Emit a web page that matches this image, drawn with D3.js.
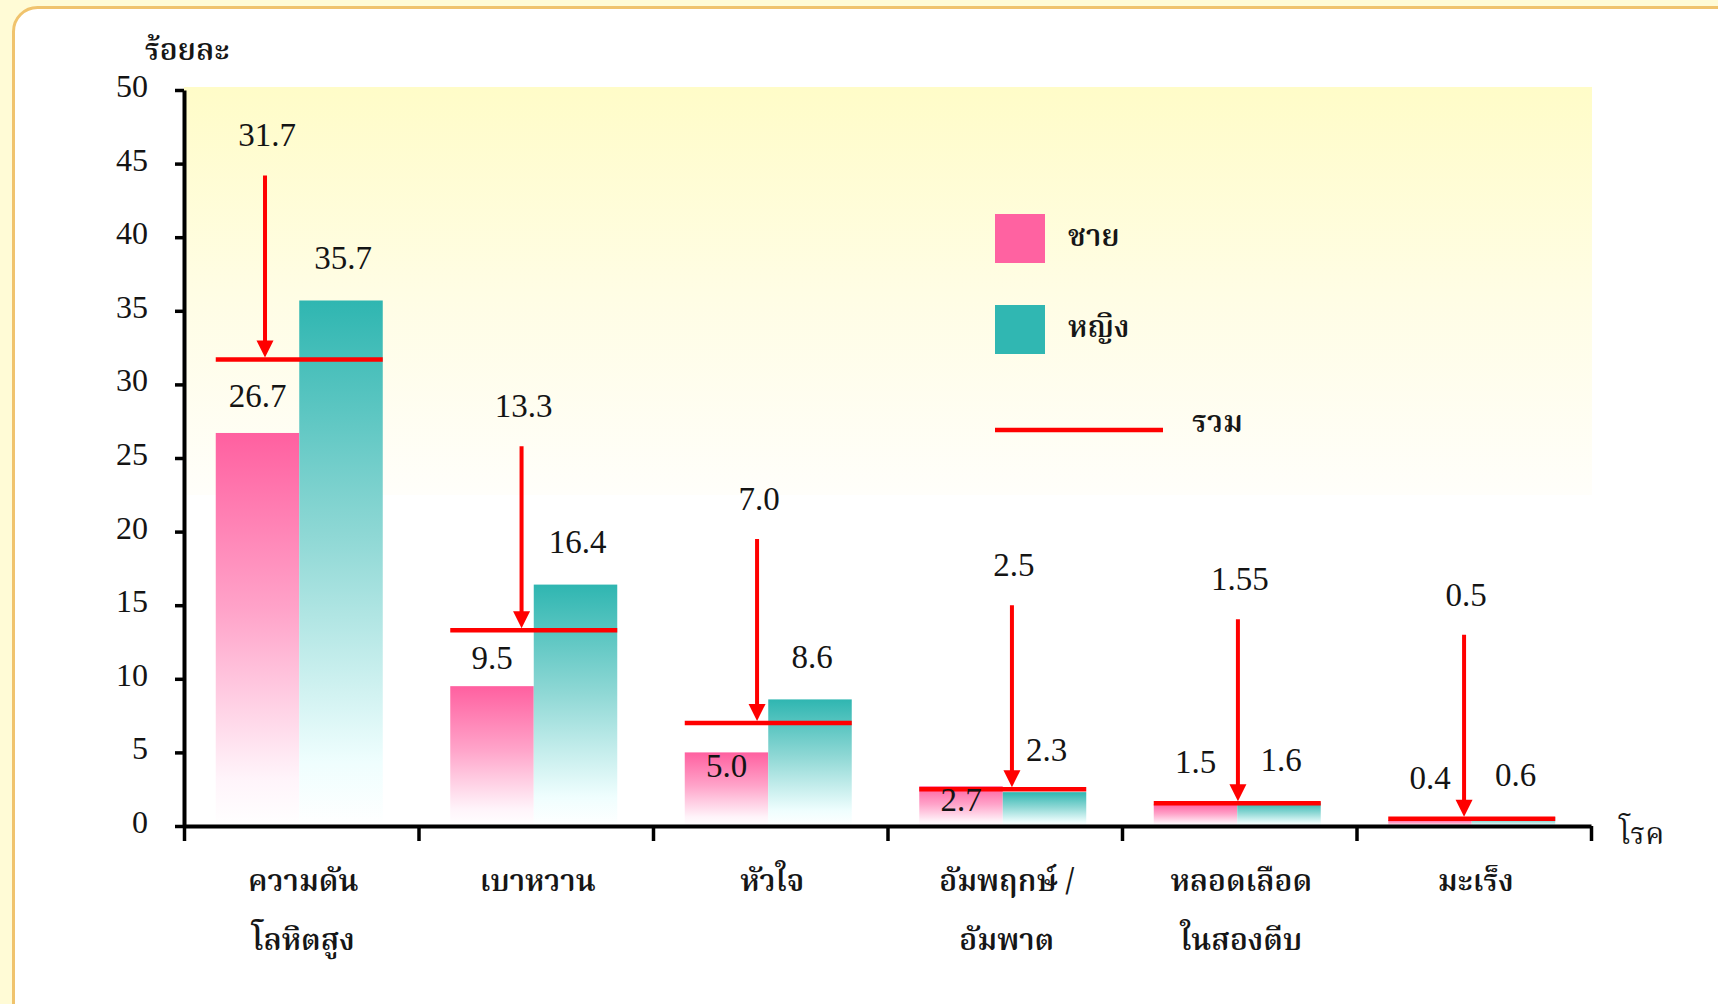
<!DOCTYPE html>
<html>
<head>
<meta charset="utf-8">
<script src="https://cdn.jsdelivr.net/npm/d3@7"></script>
<style>
  html, body { margin: 0; padding: 0; background: #fffbd6; }
  svg { display: block; }
  .num { font-family: "Liberation Serif", "Times New Roman", serif; fill: #141414; }
  .thai { font-family: "Noto Serif Thai", "Noto Sans Thai Looped", "Sarabun", "TH Sarabun New", "Loma", "Garuda", "Norasi", "Kinnari", "Noto Sans Thai", "DejaVu Sans", sans-serif; fill: #161616; }
</style>
</head>
<body>
<svg id="chart" width="1718" height="1004"></svg>
<script>
// Disease categories (multi-line labels split on "\n")
const categories = ["ความดัน\nโลหิตสูง", "เบาหวาน", "หัวใจ", "อัมพฤกษ์ /\nอัมพาต", "หลอดเลือด\nในสองตีบ", "มะเร็ง"];
// Percent by sex, and the combined percentage
const male   = [26.7, 9.5, 5.0, 2.7, 1.5, 0.4];
const female = [35.7, 16.4, 8.6, 2.3, 1.6, 0.6];
const total  = [31.7, 13.3, 7.0, 2.5, 1.55, 0.5];
const yTicks = [0, 5, 10, 15, 20, 25, 30, 35, 40, 45, 50];
const seriesNames = ["ชาย", "หญิง"];
const totalName = "รวม";
const yTitle = "ร้อยละ";
const xTitle = "โรค";

// Layout settings
const plot = { left: 184, right: 1591, top: 90, bottom: 826 };
const pairWidth = 167;
const arrowLength = 182;
const arrowAt = [0.295, 0.427, 0.433, 0.555, 0.504, 0.454];   // arrow position across each bar pair
const maleLabelMode = ["between", "between", "inside", "inside", "above", "above"];
const colors = { male: "#ff62a1", female: "#30b7b2", total: "#ff0000" };

const fmt = v => (Math.abs(v * 10 - Math.round(v * 10)) < 1e-9 ? v.toFixed(1) : String(v));

const svg = d3.select("#chart");
const defs = svg.append("defs");

function vGrad(id, stops) {
  const g = defs.append("linearGradient").attr("id", id)
    .attr("x1", 0).attr("y1", 0).attr("x2", 0).attr("y2", 1);
  stops.forEach(([o, c]) => g.append("stop").attr("offset", o).attr("stop-color", c));
}
vGrad("gMale", [[0, "#ff60a0"], [0.45, "#ffa3c9"], [0.88, "#fff4fa"], [1, "#ffffff"]]);
vGrad("gFemale", [[0, "#2fb6b1"], [0.45, "#8fd8d5"], [0.88, "#effefe"], [1, "#ffffff"]]);
vGrad("gPlot", [[0, "#fffcc8"], [0.5, "#fffde4"], [1, "#fffefa"]]);

// Page frame
svg.append("rect")
  .attr("x", 13.5).attr("y", 7.5).attr("width", 1730).attr("height", 1100)
  .attr("rx", 24).attr("fill", "#ffffff")
  .attr("stroke", "#f0c36d").attr("stroke-width", 3);

// Pale yellow plot backdrop
svg.append("rect")
  .attr("x", plot.left).attr("y", plot.top - 3)
  .attr("width", plot.right - plot.left + 1).attr("height", 408)
  .attr("fill", "url(#gPlot)");

// Scales
const x = d3.scaleBand().domain(d3.range(categories.length)).range([plot.left, plot.right]);
const xEdge = d3.scaleLinear().domain([0, categories.length]).range([plot.left, plot.right]);
const y = d3.scaleLinear().domain([0, 50]).range([plot.bottom, plot.top]);
const sub = d3.scaleBand().domain(["male", "female"]).range([0, pairWidth]);
const pairX = i => x(i) + (x.bandwidth() - pairWidth) / 2 - 2;

// Bars
const rows = categories.map((c, i) => ({ i, male: male[i], female: female[i], total: total[i] }));
["male", "female"].forEach(key => {
  svg.append("g").selectAll("rect").data(rows).join("rect")
    .attr("x", d => pairX(d.i) + sub(key))
    .attr("y", d => y(d[key]))
    .attr("width", sub.bandwidth())
    .attr("height", d => y(0) - y(d[key]))
    .attr("fill", key === "male" ? "url(#gMale)" : "url(#gFemale)");
});

// Axes
const yAxis = svg.append("g").attr("transform", `translate(${plot.left},0)`)
  .call(d3.axisLeft(y).tickValues(yTicks).tickSize(9).tickSizeOuter(0).tickPadding(27));
yAxis.select(".domain").attr("stroke", "#000").attr("stroke-width", 4);
yAxis.selectAll(".tick line").attr("stroke", "#000").attr("stroke-width", 3.5);
yAxis.selectAll(".tick text").attr("class", "num").attr("font-size", 32).attr("dy", "0.2em");

const xAxis = svg.append("g").attr("transform", `translate(0,${plot.bottom})`)
  .call(d3.axisBottom(xEdge).tickValues(d3.range(categories.length + 1)).tickSize(15).tickSizeOuter(0).tickFormat(""));
xAxis.select(".domain").attr("stroke", "#000").attr("stroke-width", 4);
xAxis.selectAll(".tick line").attr("stroke", "#000").attr("stroke-width", 3.5);

// Combined-rate lines
svg.append("g").selectAll("line").data(rows).join("line")
  .attr("x1", d => pairX(d.i)).attr("x2", d => pairX(d.i) + pairWidth)
  .attr("y1", d => y(d.total)).attr("y2", d => y(d.total))
  .attr("stroke", colors.total).attr("stroke-width", 4.5);

// Arrows pointing at the combined-rate lines, with their labels
const arrows = svg.append("g");
rows.forEach(d => {
  const ax = pairX(d.i) + pairWidth * arrowAt[d.i];
  const ly = y(d.total) - 2;
  const top = ly - arrowLength;
  arrows.append("line")
    .attr("x1", ax).attr("x2", ax).attr("y1", top).attr("y2", ly - 14)
    .attr("stroke", colors.total).attr("stroke-width", 4);
  arrows.append("path")
    .attr("d", `M${ax - 8.5},${ly - 17}L${ax + 8.5},${ly - 17}L${ax},${ly}Z`)
    .attr("fill", colors.total);
  arrows.append("text").attr("class", "num").attr("font-size", 33)
    .attr("text-anchor", "middle")
    .attr("x", ax + 2).attr("y", top - 40).attr("dy", "0.33em")
    .text(fmt(d.total));
});

// Value labels for the bars
const labels = svg.append("g");
rows.forEach(d => {
  const mx = pairX(d.i) + sub("male") + sub.bandwidth() / 2;
  const fx = pairX(d.i) + sub("female") + sub.bandwidth() / 2;
  const mTop = y(d.male);
  let my;
  if (maleLabelMode[d.i] === "between") my = (mTop + y(d.total)) / 2;
  else if (maleLabelMode[d.i] === "inside") my = mTop + 14;
  else my = mTop - 42;
  labels.append("text").attr("class", "num").attr("font-size", 33).attr("text-anchor", "middle")
    .attr("x", mx).attr("y", my).attr("dy", "0.33em").text(fmt(d.male));
  labels.append("text").attr("class", "num").attr("font-size", 33).attr("text-anchor", "middle")
    .attr("x", fx + 2).attr("y", y(d.female) - 42).attr("dy", "0.33em").text(fmt(d.female));
});

// Category labels
const cat = svg.append("g");
categories.forEach((c, i) => {
  c.split("\n").forEach((line, k) => {
    cat.append("text").attr("class", "thai").attr("font-size", 30).attr("font-weight", 600)
      .attr("text-anchor", "middle")
      .attr("x", x(i) + x.bandwidth() / 2 + 2).attr("y", 880 + k * 59).attr("dy", "0.35em")
      .text(line);
  });
});

// Axis titles
svg.append("text").attr("class", "thai").attr("font-size", 30).attr("font-weight", 600)
  .attr("text-anchor", "middle").attr("x", 187).attr("y", 49).attr("dy", "0.35em").text(yTitle);
svg.append("text").attr("class", "thai").attr("font-size", 30)
  .attr("x", 1619).attr("y", 833).attr("dy", "0.35em").text(xTitle);

// Legend
const legend = svg.append("g");
[["male", 0], ["female", 1]].forEach(([key, k]) => {
  legend.append("rect").attr("x", 995).attr("y", 214 + k * 91).attr("width", 50).attr("height", 49)
    .attr("fill", colors[key]);
  legend.append("text").attr("class", "thai").attr("font-size", 30).attr("font-weight", 600)
    .attr("x", 1068).attr("y", 235 + k * 91).attr("dy", "0.35em").text(seriesNames[k]);
});
legend.append("line").attr("x1", 995).attr("x2", 1163).attr("y1", 430).attr("y2", 430)
  .attr("stroke", colors.total).attr("stroke-width", 4.5);
legend.append("text").attr("class", "thai").attr("font-size", 30).attr("font-weight", 600)
  .attr("x", 1192).attr("y", 421).attr("dy", "0.35em").text(totalName);
</script>
</body>
</html>
